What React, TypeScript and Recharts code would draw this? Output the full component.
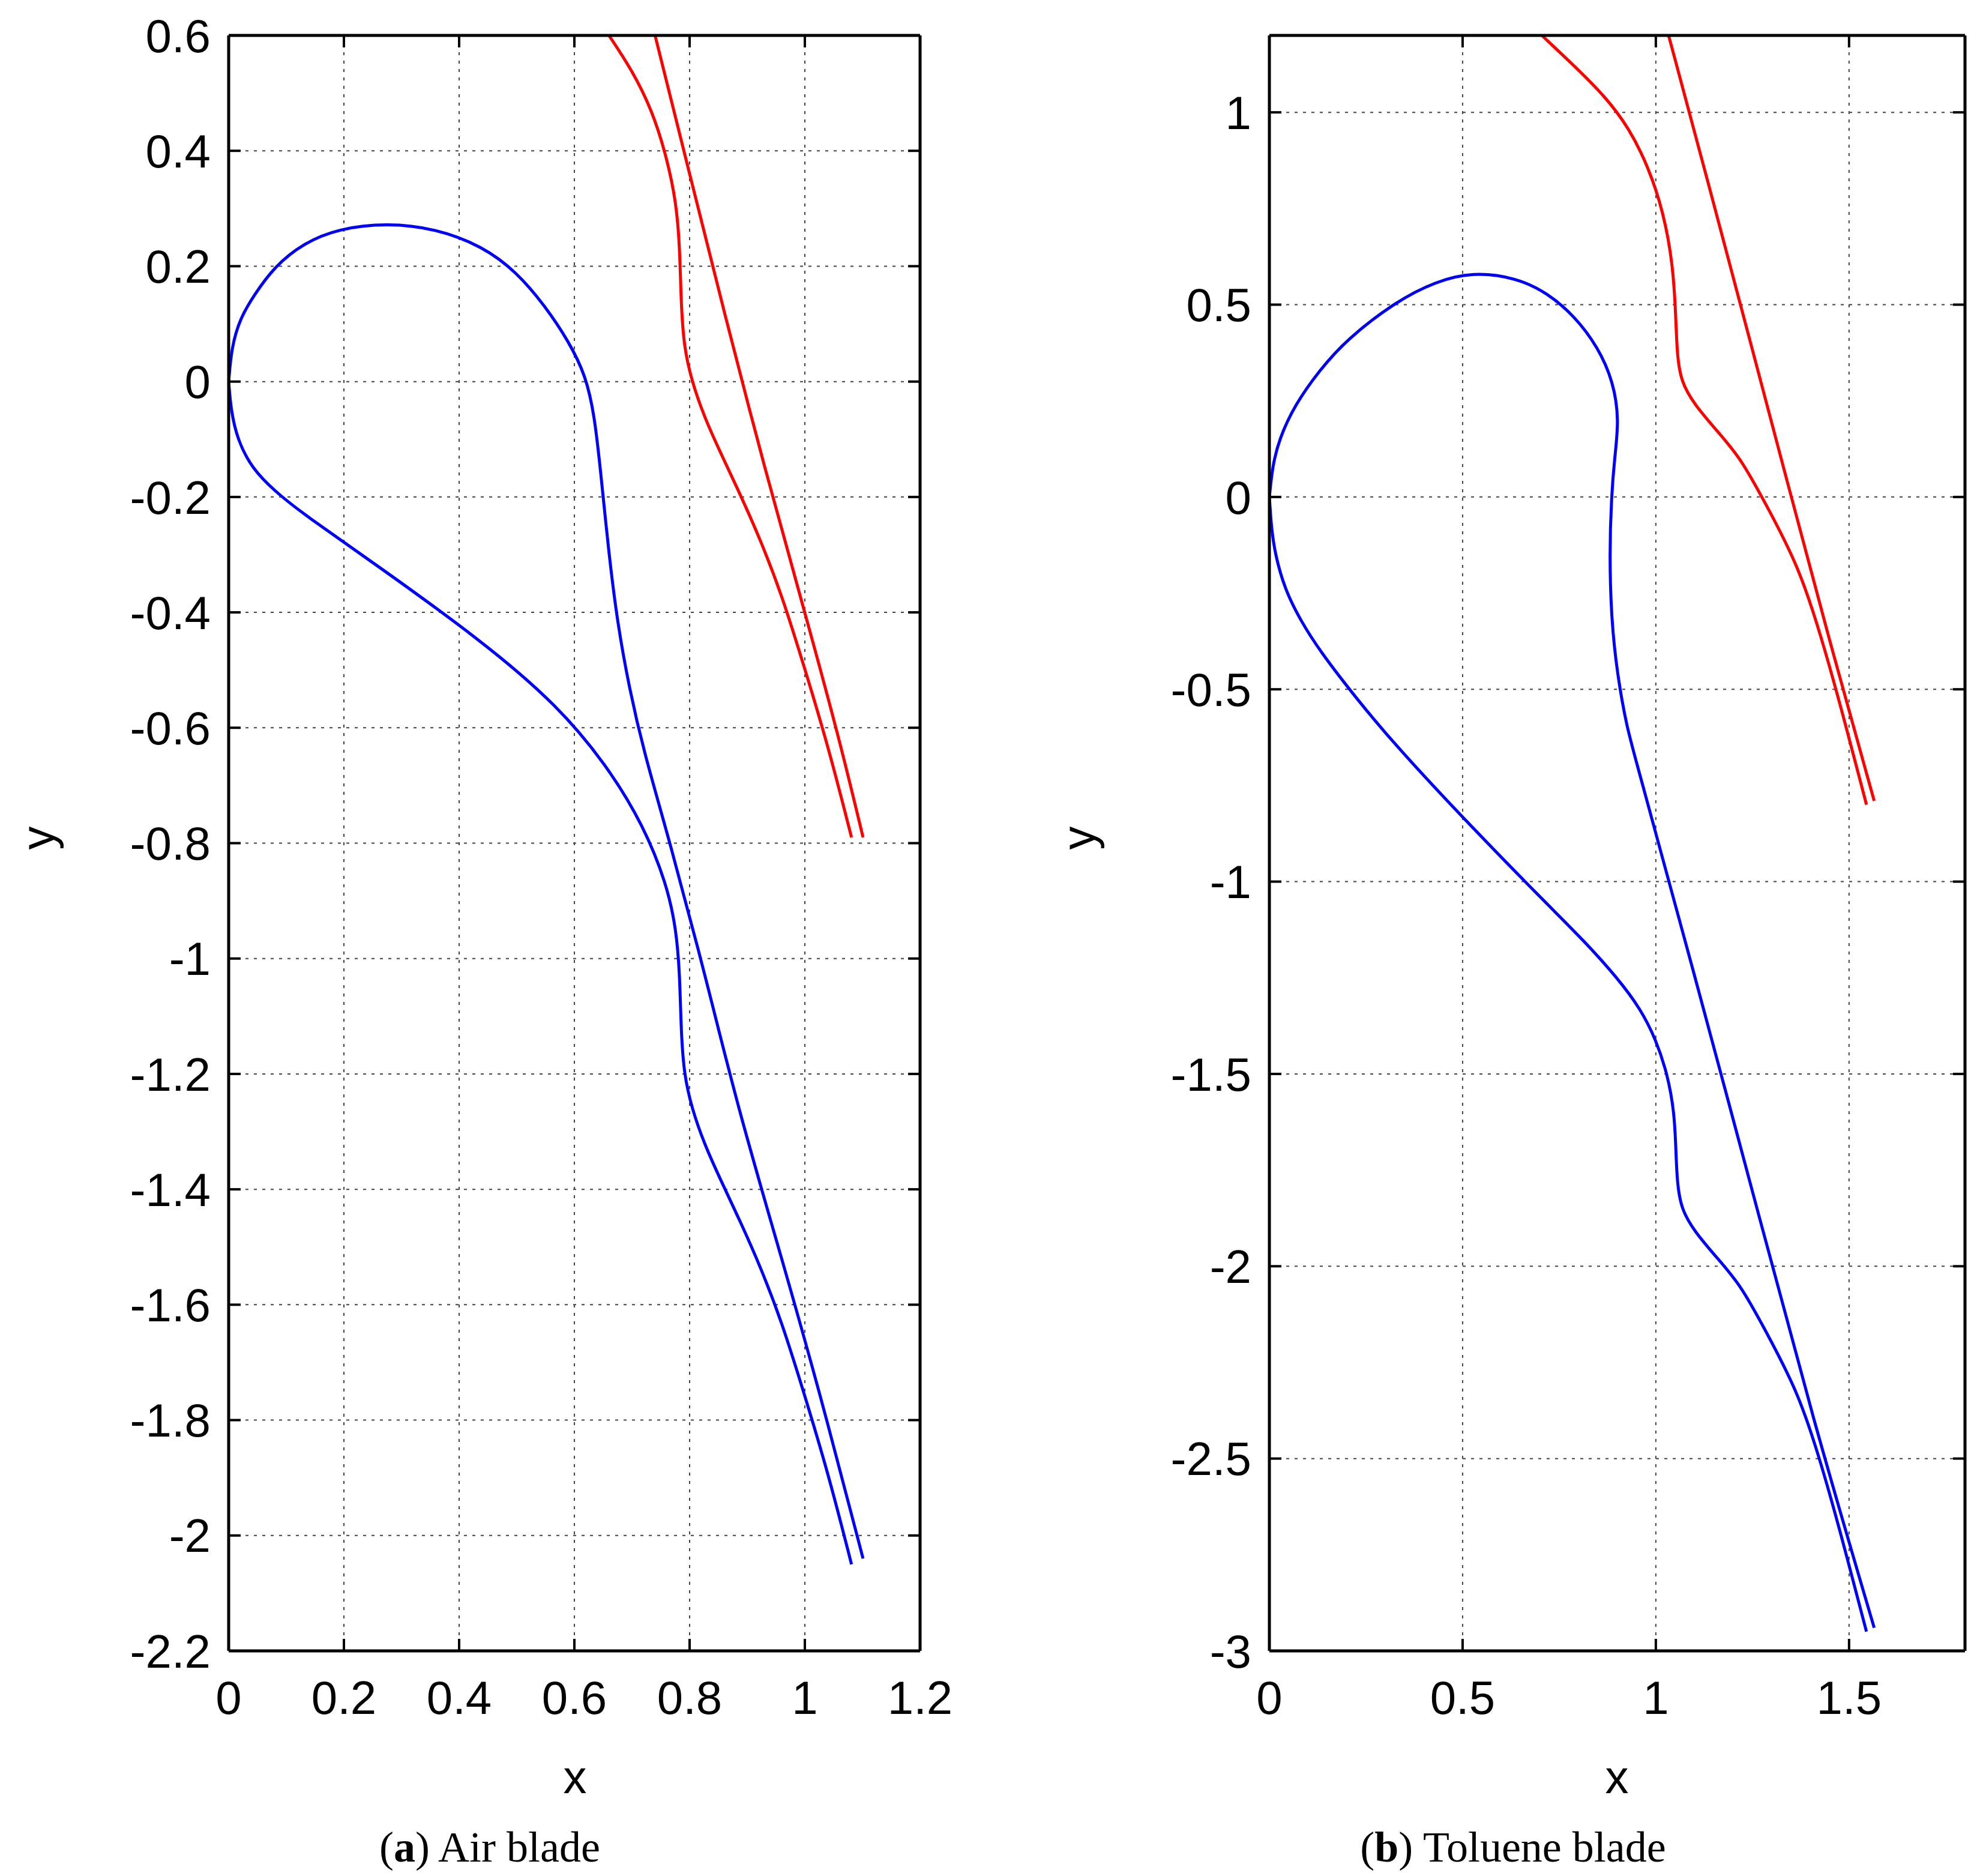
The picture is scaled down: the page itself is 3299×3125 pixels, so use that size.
import React from "react";
import { LineChart, Line, XAxis, YAxis, CartesianGrid } from "recharts";

// Air blade (a)
const airUpper = [
  { x: 0, y: 0 }, { x: 0.005, y: 0.06 }, { x: 0.02, y: 0.11 }, { x: 0.044, y: 0.15 },
  { x: 0.08, y: 0.2 }, { x: 0.13, y: 0.24 }, { x: 0.19, y: 0.265 }, { x: 0.275, y: 0.275 },
  { x: 0.36, y: 0.265 }, { x: 0.44, y: 0.235 }, { x: 0.5, y: 0.19 }, { x: 0.55, y: 0.13 },
  { x: 0.59, y: 0.07 }, { x: 0.62, y: 0.01 }, { x: 0.635, y: -0.06 }, { x: 0.645, y: -0.15 },
  { x: 0.66, y: -0.3 }, { x: 0.675, y: -0.42 }, { x: 0.695, y: -0.53 }, { x: 0.72, y: -0.64 },
  { x: 0.765, y: -0.795 }, { x: 0.83, y: -1.04 }, { x: 0.884, y: -1.26 }, { x: 0.96, y: -1.52 },
  { x: 1.024, y: -1.745 }, { x: 1.101, y: -2.04 },
];
const airLower = [
  { x: 0, y: 0 }, { x: 0.004, y: -0.05 }, { x: 0.015, y: -0.1 }, { x: 0.04, y: -0.15 },
  { x: 0.08, y: -0.19 }, { x: 0.13, y: -0.23 }, { x: 0.26, y: -0.32 }, { x: 0.44, y: -0.45 },
  { x: 0.57, y: -0.56 }, { x: 0.66, y: -0.67 }, { x: 0.72, y: -0.77 }, { x: 0.76, y: -0.87 },
  { x: 0.777, y: -0.95 }, { x: 0.783, y: -1.03 }, { x: 0.785, y: -1.12 }, { x: 0.79, y: -1.2 },
  { x: 0.804, y: -1.26 }, { x: 0.825, y: -1.32 }, { x: 0.852, y: -1.38 }, { x: 0.89, y: -1.46 },
  { x: 0.924, y: -1.537 }, { x: 0.96, y: -1.63 }, { x: 0.996, y: -1.745 }, { x: 1.04, y: -1.89 },
  { x: 1.081, y: -2.05 },
];
const airRedUpper = [
  { x: 0.74, y: 0.6 }, { x: 0.8, y: 0.36 }, { x: 0.86, y: 0.12 }, { x: 0.93, y: -0.15 },
  { x: 1.0, y: -0.4 }, { x: 1.06, y: -0.62 }, { x: 1.101, y: -0.79 },
];
const airRedLower = [
  { x: 0.66, y: 0.6 }, { x: 0.7, y: 0.54 }, { x: 0.735, y: 0.47 }, { x: 0.76, y: 0.39 },
  { x: 0.777, y: 0.31 }, { x: 0.783, y: 0.23 }, { x: 0.785, y: 0.14 }, { x: 0.79, y: 0.06 },
  { x: 0.804, y: 0.0 }, { x: 0.825, y: -0.06 }, { x: 0.852, y: -0.12 }, { x: 0.89, y: -0.2 },
  { x: 0.924, y: -0.277 }, { x: 0.96, y: -0.37 }, { x: 0.996, y: -0.485 }, { x: 1.04, y: -0.63 },
  { x: 1.081, y: -0.79 },
];
const airXTicks = [0, 0.2, 0.4, 0.6, 0.8, 1, 1.2];
const airYTicks = [-2.2, -2, -1.8, -1.6, -1.4, -1.2, -1, -0.8, -0.6, -0.4, -0.2, 0, 0.2, 0.4, 0.6];

// Toluene blade (b)
const tolUpper = [
  { x: 0, y: 0 }, { x: 0.008, y: 0.08 }, { x: 0.025, y: 0.15 }, { x: 0.066, y: 0.24 },
  { x: 0.13, y: 0.33 }, { x: 0.2, y: 0.41 }, { x: 0.33, y: 0.51 }, { x: 0.43, y: 0.56 },
  { x: 0.525, y: 0.585 }, { x: 0.64, y: 0.57 }, { x: 0.72, y: 0.53 }, { x: 0.79, y: 0.47 },
  { x: 0.85, y: 0.39 }, { x: 0.89, y: 0.3 }, { x: 0.905, y: 0.2 }, { x: 0.893, y: 0.1 },
  { x: 0.885, y: 0.0 }, { x: 0.88, y: -0.15 }, { x: 0.885, y: -0.32 }, { x: 0.9, y: -0.46 },
  { x: 0.925, y: -0.6 }, { x: 0.95, y: -0.69 }, { x: 1.09, y: -1.205 }, { x: 1.27, y: -1.88 },
  { x: 1.41, y: -2.41 }, { x: 1.565, y: -2.94 },
];
const tolLower = [
  { x: 0, y: 0 }, { x: 0.005, y: -0.08 }, { x: 0.015, y: -0.15 }, { x: 0.04, y: -0.24 },
  { x: 0.08, y: -0.32 }, { x: 0.13, y: -0.4 }, { x: 0.23, y: -0.53 }, { x: 0.33, y: -0.65 },
  { x: 0.525, y: -0.86 }, { x: 0.72, y: -1.06 }, { x: 0.82, y: -1.16 }, { x: 0.9, y: -1.25 },
  { x: 0.96, y: -1.33 }, { x: 1.0, y: -1.41 }, { x: 1.03, y: -1.5 }, { x: 1.048, y: -1.6 },
  { x: 1.052, y: -1.7 }, { x: 1.055, y: -1.78 }, { x: 1.065, y: -1.85 }, { x: 1.1, y: -1.91 },
  { x: 1.16, y: -1.98 }, { x: 1.22, y: -2.05 }, { x: 1.28, y: -2.16 }, { x: 1.37, y: -2.33 },
  { x: 1.43, y: -2.52 }, { x: 1.48, y: -2.7 }, { x: 1.545, y: -2.95 },
];
const tolRedUpper = [
  { x: 1.033, y: 1.2 }, { x: 1.14, y: 0.8 }, { x: 1.24, y: 0.42 }, { x: 1.34, y: 0.04 },
  { x: 1.44, y: -0.34 }, { x: 1.565, y: -0.79 },
];
const tolRedLower = [
  { x: 0.705, y: 1.2 }, { x: 0.79, y: 1.12 }, { x: 0.87, y: 1.04 }, { x: 0.93, y: 0.96 },
  { x: 0.98, y: 0.86 }, { x: 1.02, y: 0.74 }, { x: 1.045, y: 0.6 }, { x: 1.052, y: 0.46 },
  { x: 1.055, y: 0.37 }, { x: 1.065, y: 0.3 }, { x: 1.1, y: 0.24 }, { x: 1.16, y: 0.17 },
  { x: 1.22, y: 0.1 }, { x: 1.28, y: -0.01 }, { x: 1.37, y: -0.18 }, { x: 1.43, y: -0.37 },
  { x: 1.48, y: -0.55 }, { x: 1.545, y: -0.8 },
];
const tolXTicks = [0, 0.5, 1, 1.5];
const tolYTicks = [-3, -2.5, -2, -1.5, -1, -0.5, 0, 0.5, 1];

const tickFont = { fontFamily: "Liberation Sans, Arial, sans-serif", fontSize: 78, fill: "#000" };
const axisLine = { stroke: "#000", strokeWidth: 5 };
const tickLine = { stroke: "#000", strokeWidth: 4 };
const noTick = () => <g />;

interface PanelProps {
  left: number;
  width: number;
  margin: { top: number; right: number; bottom: number; left: number };
  xDomain: [number, number];
  yDomain: [number, number];
  xTicks: number[];
  yTicks: number[];
  blue: { x: number; y: number }[][];
  red: { x: number; y: number }[][];
}

function Panel({ left, width, margin, xDomain, yDomain, xTicks, yTicks, blue, red }: PanelProps) {
  return (
    <div style={{ position: "absolute", left, top: 0 }}>
      <LineChart width={width} height={2950} margin={margin} style={{ overflow: "visible" }}>
        <CartesianGrid stroke="#444" strokeWidth={2} strokeDasharray="5 9" />
        <XAxis type="number" dataKey="x" domain={xDomain} ticks={xTicks} height={1}
          allowDataOverflow tick={tickFont} tickSize={-20} tickMargin={70} axisLine={axisLine}
          tickLine={tickLine} interval={0} />
        <XAxis xAxisId="m" orientation="top" type="number" dataKey="x" domain={xDomain} ticks={xTicks}
          height={1} allowDataOverflow tick={noTick} tickSize={-20} axisLine={axisLine}
          tickLine={tickLine} interval={0} />
        <YAxis type="number" dataKey="y" domain={yDomain} ticks={yTicks} width={1}
          allowDataOverflow tick={tickFont} tickSize={-20} tickMargin={50} axisLine={axisLine}
          tickLine={tickLine} interval={0} />
        <YAxis yAxisId="m" orientation="right" type="number" dataKey="y" domain={yDomain} ticks={yTicks}
          width={1} allowDataOverflow tick={noTick} tickSize={-20} axisLine={axisLine}
          tickLine={tickLine} interval={0} />
        {blue.map((d, i) => (
          <Line key={"b" + i} data={d} dataKey="y" type="basis" stroke="#0000ff" strokeWidth={5}
            dot={false} isAnimationActive={false} />
        ))}
        {red.map((d, i) => (
          <Line key={"r" + i} data={d} dataKey="y" type="basis" stroke="#ff0000" strokeWidth={5}
            dot={false} isAnimationActive={false} />
        ))}
      </LineChart>
    </div>
  );
}

const labelStyle: React.CSSProperties = {
  position: "absolute", fontFamily: "Liberation Sans, Arial, sans-serif", fontSize: 78,
  transform: "translate(-50%, -50%)", whiteSpace: "nowrap",
};
const capStyle: React.CSSProperties = {
  ...labelStyle, fontFamily: "Liberation Serif, serif", fontSize: 72,
};

export default function App() {
  return (
    <div style={{ position: "relative", width: 3299, height: 3125, margin: -8, background: "#fff" }}>
      <Panel left={0} width={1650} margin={{ top: 58, right: 116, bottom: 199, left: 380 }}
        xDomain={[0, 1.2]} yDomain={[-2.2, 0.6]} xTicks={airXTicks} yTicks={airYTicks}
        blue={[airUpper, airLower]} red={[airRedUpper, airRedLower]} />
      <Panel left={1650} width={1649} margin={{ top: 58, right: 24, bottom: 199, left: 464 }}
        xDomain={[0, 1.8]} yDomain={[-3, 1.2]} xTicks={tolXTicks} yTicks={tolYTicks}
        blue={[tolUpper, tolLower]} red={[tolRedUpper, tolRedLower]} />
      <div style={{ ...labelStyle, left: 63, top: 1396, transform: "translate(-50%, -50%) rotate(-90deg)" }}>y</div>
      <div style={{ ...labelStyle, left: 1797, top: 1396, transform: "translate(-50%, -50%) rotate(-90deg)" }}>y</div>
      <div style={{ ...labelStyle, left: 958, top: 2960 }}>x</div>
      <div style={{ ...labelStyle, left: 2694, top: 2960 }}>x</div>
      <div style={{ ...capStyle, left: 816, top: 3077 }}>(<b>a</b>) Air blade</div>
      <div style={{ ...capStyle, left: 2521, top: 3077 }}>(<b>b</b>) Toluene blade</div>
    </div>
  );
}
